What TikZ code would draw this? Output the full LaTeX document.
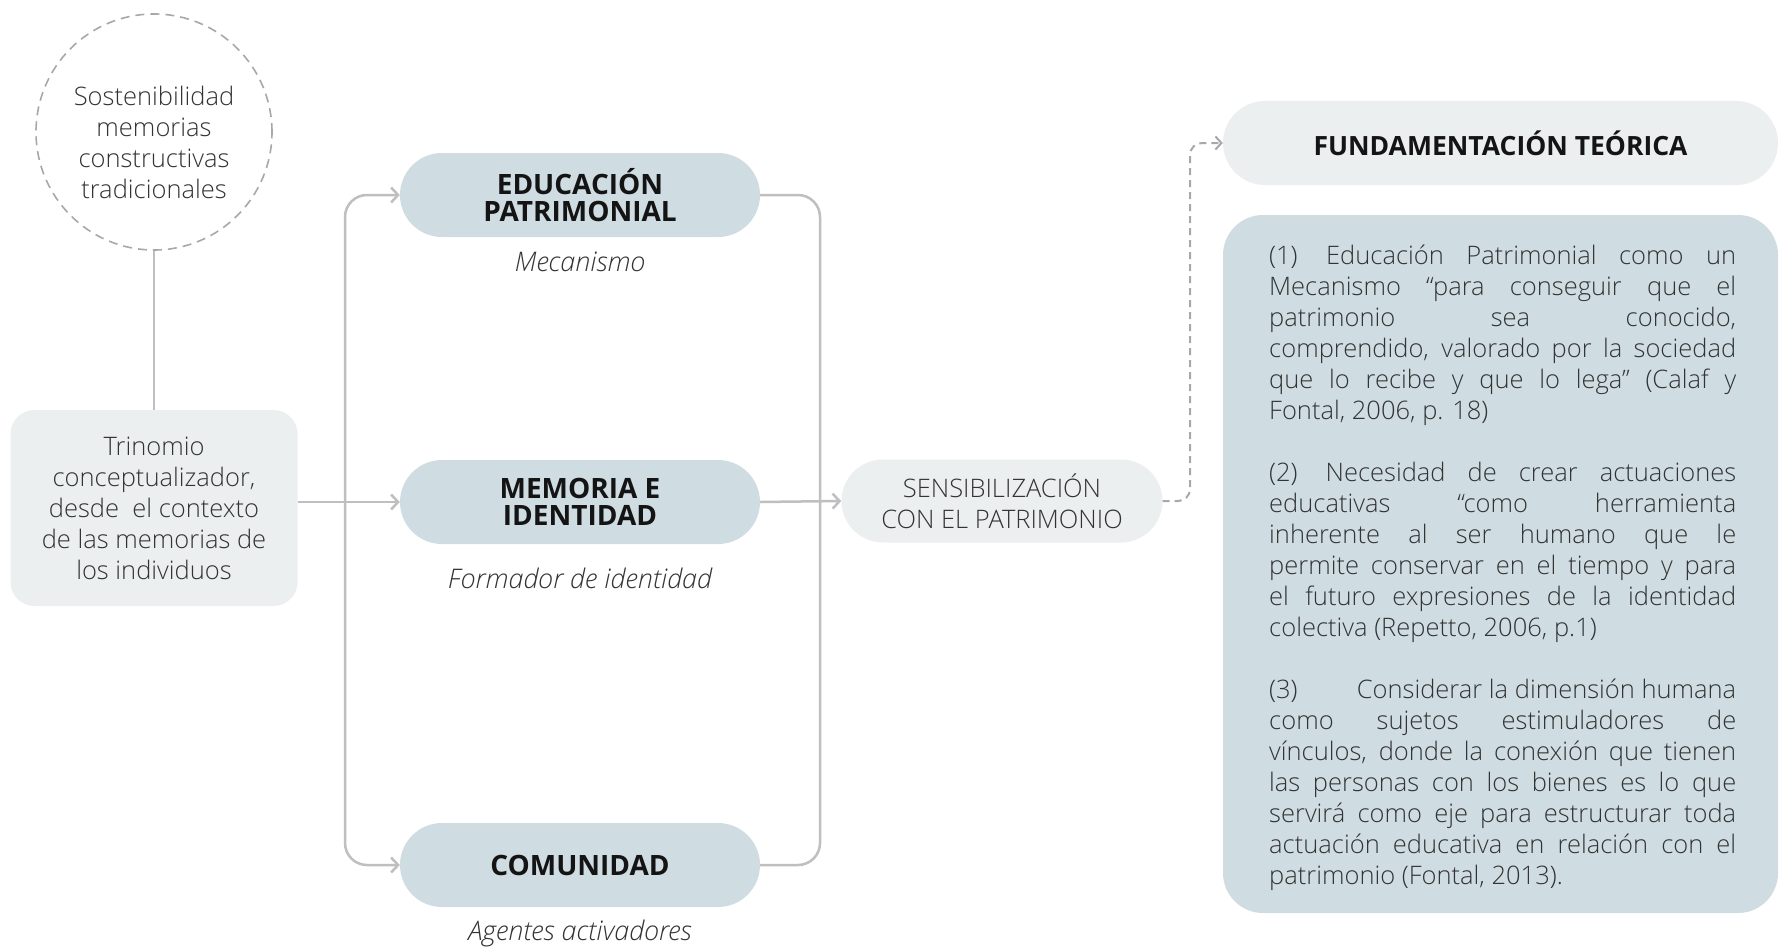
\documentclass[tikz,border=0pt]{standalone}
\usepackage{fontspec}
\setmainfont{Open Sans}
\IfFontExistsTF{Open Sans Light}
  {\newfontfamily\lightfont{Open Sans Light}}
  {\newfontfamily\lightfont{Open Sans}}
\IfFontExistsTF{Open Sans Light Italic}
  {\newfontfamily\lightit{Open Sans Light Italic}}
  {\newfontfamily\lightit{Open Sans Italic}}
\usetikzlibrary{arrows.meta,shapes.misc}
\definecolor{bluebox}{HTML}{CFDDE3}
\definecolor{greybox}{HTML}{ECEFF0}
\definecolor{linec}{HTML}{BFBFBF}
\definecolor{dashc}{HTML}{A8A8A8}
\definecolor{txt}{HTML}{333333}
\definecolor{hdr}{HTML}{141414}
\begin{document}
\begin{tikzpicture}[x=1pt,y=-1pt,
  pill/.style={rounded rectangle, minimum width=360pt, minimum height=84pt, inner sep=0pt,
    fill=bluebox, align=center, text=hdr, font=\fontsize{28}{27}\selectfont\bfseries},
  lightpill/.style={rounded rectangle, inner sep=0pt, fill=greybox, align=center},
  body/.style={text=txt, font=\lightfont\fontsize{25.5}{31}\selectfont},
  lab/.style={text=txt, font=\lightit\fontsize{27}{30}\selectfont, inner sep=0pt},
  conn/.style={draw=linec, line width=2.5pt},
  dconn/.style={draw=dashc, line width=2pt, dash pattern=on 7pt off 5pt},
  arr/.style={-{Straight Barb[length=7pt,width=15pt,line width=2.5pt]}},
  darr/.style={-{Straight Barb[length=6pt,width=13pt,line width=2pt]}},
]
\useasboundingbox (0,0) rectangle (1784,947);
\fill[white] (0,0) rectangle (1784,947);

% left
\node[circle, draw=dashc, line width=1.6pt, dash pattern=on 9pt off 6pt, minimum size=236pt,
  inner sep=0pt] (circ) at (154,132) {};
\node[align=center, body, inner sep=0pt] (circt) at (154,142)
  {Sostenibilidad\\memorias\\constructivas\\tradicionales};
\node[rectangle, rounded corners=24pt, fill=greybox, minimum width=287pt, minimum height=196pt,
  inner sep=0pt, align=center, body] (trin) at (154,508)
  {Trinomio\\conceptualizador,\\desde\ \ el contexto\\de las memorias de\\los individuos};

% middle
\node[pill] (edu) at (580,195) {EDUCACIÓN\\PATRIMONIAL};
\node[pill] (mem) at (580,502) {MEMORIA E\\IDENTIDAD};
\node[pill] (com) at (580,865) {COMUNIDAD};
\node[lab] (edul) at (580,262) {Mecanismo};
\node[lab] (meml) at (580,578) {Formador de identidad};
\node[lab] (coml) at (580,933) {Agentes activadores};

\node[lightpill, minimum width=321pt, minimum height=83pt, body] (sens) at (1002,501)
  {SENSIBILIZACIÓN\\CON EL PATRIMONIO};

% right
\node[lightpill, minimum width=555pt, minimum height=84pt, text=hdr,
  font=\fontsize{26.5}{30}\selectfont\bfseries] (fund) at (1500.5,143) {FUNDAMENTACIÓN TEÓRICA};
\node[rectangle, rounded corners=40pt, fill=bluebox, minimum width=555pt, minimum height=698pt,
  inner sep=0pt] (big) at (1500.5,564) {};
\node[anchor=base west, inner sep=0pt, text=txt] (bigtext) at (1269,264)
  {\parbox[t]{467pt}{\lightfont\fontsize{25.5}{31}\selectfont\parskip=31pt\parindent=0pt
  (1)\hspace{6pt} Educación Patrimonial como un\linebreak
  Mecanismo “para conseguir que el\linebreak
  patrimonio sea conocido,\linebreak
  comprendido, valorado por la sociedad\linebreak
  que lo recibe y que lo lega” (Calaf y\linebreak
  Fontal, 2006, p. 18)\par
  (2)\hspace{6pt} Necesidad de crear actuaciones\linebreak
  educativas “como herramienta\linebreak
  inherente al ser humano que le\linebreak
  permite conservar en el tiempo y para\linebreak
  el futuro expresiones de la identidad\linebreak
  colectiva (Repetto, 2006, p.1)\par
  (3)\hfill Considerar la dimensión humana\linebreak
  como sujetos estimuladores de\linebreak
  vínculos, donde la conexión que tienen\linebreak
  las personas con los bienes es lo que\linebreak
  servirá como eje para estructurar toda\linebreak
  actuación educativa en relación con el\linebreak
  patrimonio (Fontal, 2013).\par}};

% connectors
\coordinate (jl) at (345,502);
\coordinate (jr) at (820,502);
\coordinate (dj) at (1190,300);
\draw[conn] (circ.south) -- (trin.north);
\draw[conn, arr] (trin.east |- mem.west) -- (mem.west);
\draw[conn, arr, rounded corners=22pt] (jl) |- (edu.west);
\draw[conn, arr, rounded corners=22pt] (jl) |- (com.west);
\draw[conn, rounded corners=22pt] (edu.east) -| (jr) |- (com.east);
\draw[conn, arr] (mem.east) -- (sens.west);
\draw[dconn, darr, rounded corners=12pt] (sens.east) -| (dj) |- (fund.west);
\end{tikzpicture}
\end{document}
